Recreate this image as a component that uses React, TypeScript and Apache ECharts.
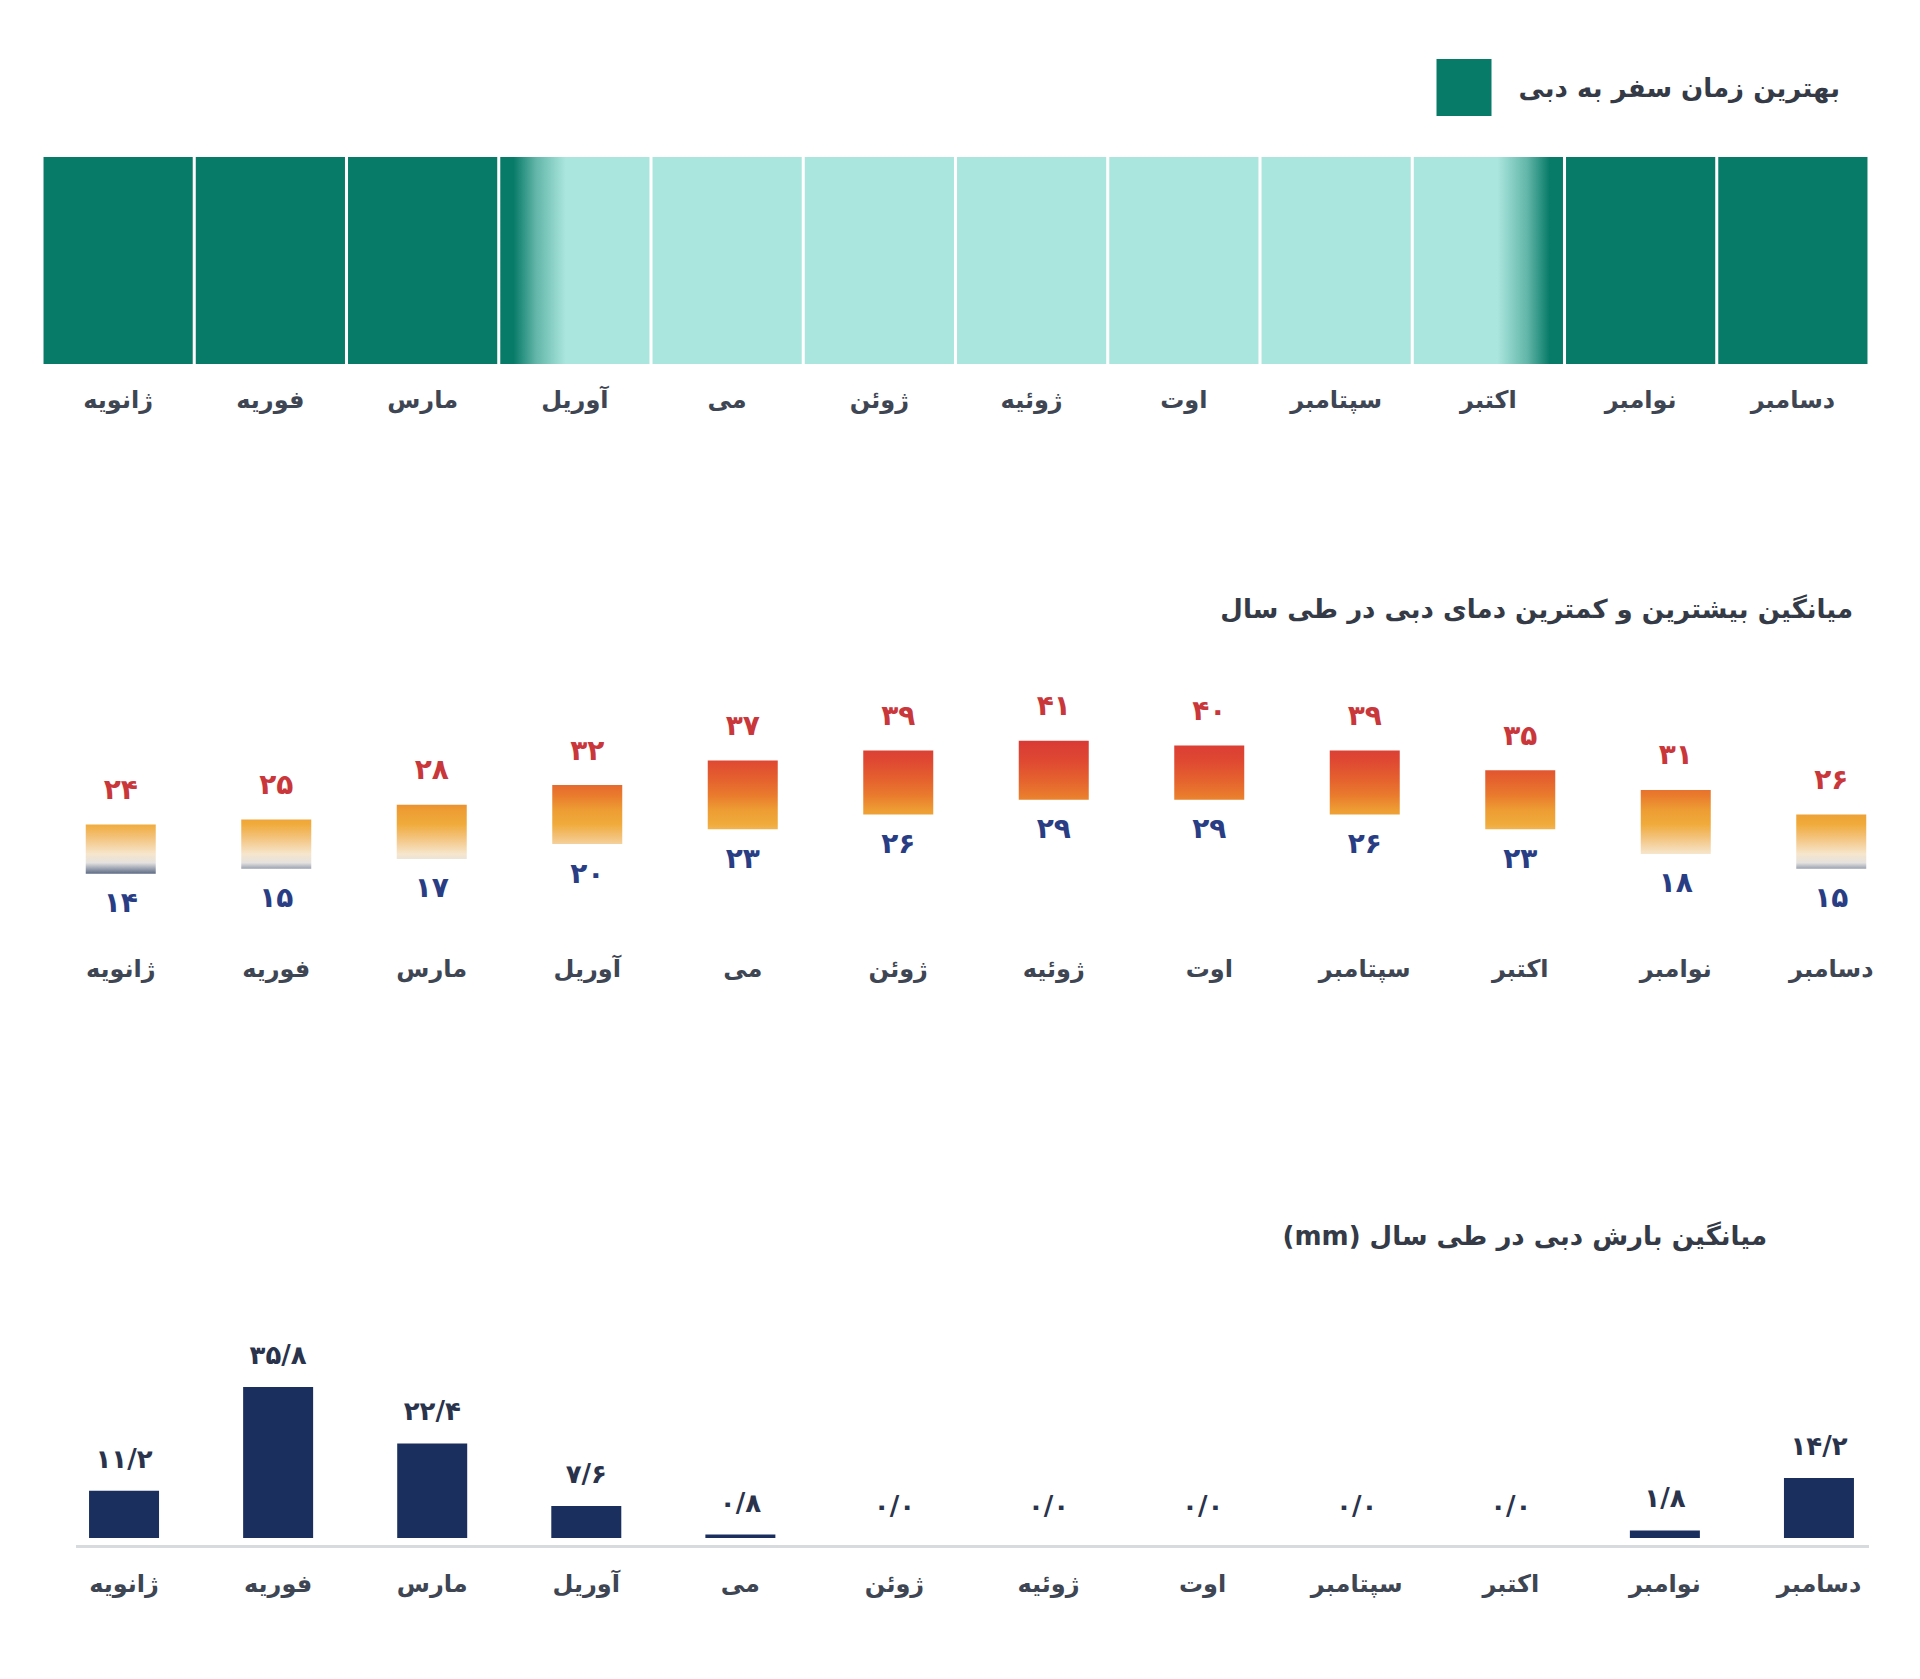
import React, { useEffect, useRef } from 'react';
import * as echarts from 'echarts';

// ---------- data ----------
const months = ['ژانویه', 'فوریه', 'مارس', 'آوریل', 'می', 'ژوئن', 'ژوئیه', 'اوت', 'سپتامبر', 'اکتبر', 'نوامبر', 'دسامبر'];
// best: best time, off: not recommended, toOff / toBest: transition months
const bestTimeStatus = ['best', 'best', 'best', 'toOff', 'off', 'off', 'off', 'off', 'off', 'toBest', 'best', 'best'];
const maxTemps = [24, 25, 28, 32, 37, 39, 41, 40, 39, 35, 31, 26];
const minTemps = [14, 15, 17, 20, 23, 26, 29, 29, 26, 23, 18, 15];
const precipitation = [11.2, 35.8, 22.4, 7.6, 0.8, 0.0, 0.0, 0.0, 0.0, 0.0, 1.8, 14.2];

const legendLabel = 'بهترین زمان سفر به دبی';
const tempTitle = 'میانگین بیشترین و کمترین دمای دبی در طی سال';
const precipTitle = '\u202Bمیانگین بارش دبی در طی سال (mm)\u202C';

// ---------- styles ----------
const FONT = '"DejaVu Sans", "Noto Sans", sans-serif';
const DARK = '#087b68';
const LIGHT = '#abe6de';
const LABEL_COLOR = '#3e4553';
const TITLE_COLOR = '#343a46';
const MAX_COLOR = '#c9373b';
const MIN_COLOR = '#283d84';
const BAR_NAVY = '#1b2f5e';
const PRECIP_LABEL = '#2a334c';

const tempScale: [number, string][] = [
  [14, '#5f6c85'],
  [15, '#9aa2b1'],
  [16.2, '#e4e2df'],
  [18, '#f6e6cc'],
  [21, '#f3c684'],
  [24, '#f0ab3c'],
  [27, '#ed9c33'],
  [30, '#e97a2d'],
  [33, '#e5622e'],
  [37, '#df4832'],
  [41, '#d93a35'],
];

const persian = (s: string) => s.replace(/[0-9]/g, (d) => '۰۱۲۳۴۵۶۷۸۹'[+d]);

function hexToRgb(h: string) {
  const n = parseInt(h.slice(1), 16);
  return [(n >> 16) & 255, (n >> 8) & 255, n & 255];
}
function mix(a: string, b: string, t: number) {
  const A = hexToRgb(a), B = hexToRgb(b);
  const c = A.map((v, i) => Math.round(v + (B[i] - v) * t));
  return `rgb(${c[0]},${c[1]},${c[2]})`;
}
function tempColor(t: number) {
  if (t <= tempScale[0][0]) return tempScale[0][1];
  for (let i = 1; i < tempScale.length; i++) {
    const [t1, c1] = tempScale[i];
    const [t0, c0] = tempScale[i - 1];
    if (t <= t1) return mix(c0, c1, (t - t0) / (t1 - t0));
  }
  return tempScale[tempScale.length - 1][1];
}
function tempGradient(max: number, min: number) {
  const stops: { offset: number; color: string }[] = [{ offset: 0, color: tempColor(max) }];
  tempScale.forEach(([t]) => {
    if (t < max && t > min) stops.push({ offset: (max - t) / (max - min), color: tempColor(t) });
  });
  stops.push({ offset: 1, color: tempColor(min) });
  stops.sort((a, b) => a.offset - b.offset);
  return new echarts.graphic.LinearGradient(0, 0, 0, 1, stops);
}
function stripColor(status: string) {
  if (status === 'best') return DARK;
  if (status === 'off') return LIGHT;
  const stops = [
    { offset: 0, color: DARK },
    { offset: 0.09, color: DARK },
    { offset: 0.24, color: mix(DARK, LIGHT, 0.55) },
    { offset: 0.44, color: LIGHT },
    { offset: 1, color: LIGHT },
  ];
  if (status === 'toOff') return new echarts.graphic.LinearGradient(0, 0, 1, 0, stops);
  return new echarts.graphic.LinearGradient(1, 0, 0, 0, stops);
}

const monthAxisLabel = (margin: number) => ({
  fontFamily: FONT,
  fontWeight: 'bold' as const,
  fontSize: 24,
  color: LABEL_COLOR,
  margin,
  interval: 0,
});

export default function App() {
  const ref = useRef<HTMLDivElement>(null);
  useEffect(() => {
    if (!ref.current) return;
    const chart = echarts.init(ref.current, undefined, { renderer: 'svg' });
    const option: any = {
      animation: false,
      backgroundColor: '#ffffff',
      textStyle: { fontFamily: FONT },
      title: [
        {
          text: tempTitle,
          right: 67,
          top: 596,
          padding: 0,
          textStyle: { fontFamily: FONT, fontWeight: 'bold', fontSize: 26, color: TITLE_COLOR },
        },
        {
          text: precipTitle,
          right: 153,
          top: 1223,
          padding: 0,
          textStyle: { fontFamily: FONT, fontWeight: 'bold', fontSize: 26, color: TITLE_COLOR },
        },
      ],
      legend: {
        right: 80,
        top: 59,
        padding: 0,
        selectedMode: false,
        itemWidth: 55,
        itemHeight: 57,
        data: [{ name: legendLabel, icon: 'rect', itemStyle: { color: DARK } }],
        textStyle: {
          fontFamily: FONT,
          fontWeight: 'bold',
          fontSize: 26,
          color: TITLE_COLOR,
          padding: [0, 0, 0, 22],
        },
      },
      grid: [
        { left: 42, right: 51, top: 157, height: 207 },
        { left: 43, right: 11, top: 721, height: 221.6 },
        { left: 47, right: 24, top: 1369.2, height: 168.8 },
      ],
      xAxis: [
        {
          gridIndex: 0, type: 'category', data: months,
          axisLine: { show: false }, axisTick: { show: false },
          axisLabel: monthAxisLabel(24),
        },
        {
          gridIndex: 1, type: 'category', data: months,
          axisLine: { show: false }, axisTick: { show: false },
          axisLabel: monthAxisLabel(14),
        },
        {
          gridIndex: 2, type: 'category', data: months,
          axisLine: { show: false }, axisTick: { show: false },
          axisLabel: monthAxisLabel(34),
        },
      ],
      yAxis: [
        { gridIndex: 0, type: 'value', min: 0, max: 1, show: false },
        { gridIndex: 1, type: 'value', min: 0, max: 45, show: false },
        { gridIndex: 2, type: 'value', min: 0, max: 40, show: false },
      ],
      graphic: [
        {
          type: 'line',
          shape: { x1: 76, y1: 1546.5, x2: 1869, y2: 1546.5 },
          style: { stroke: '#d8dbde', lineWidth: 3 },
          silent: true,
        },
      ],
      series: [
        {
          name: legendLabel,
          type: 'bar',
          xAxisIndex: 0,
          yAxisIndex: 0,
          barCategoryGap: '2%',
          itemStyle: { color: DARK },
          data: bestTimeStatus.map((s) => ({ value: 1, itemStyle: { color: stripColor(s) } })),
        },
        {
          name: 'min',
          type: 'bar',
          xAxisIndex: 1,
          yAxisIndex: 1,
          stack: 'temp',
          barWidth: 70,
          itemStyle: { color: 'rgba(0,0,0,0)' },
          label: {
            show: true,
            position: 'insideTop',
            distance: 15,
            fontFamily: FONT,
            fontWeight: 'bold',
            fontSize: 28,
            color: MIN_COLOR,
            formatter: (p: any) => persian(String(minTemps[p.dataIndex])),
          },
          data: minTemps,
        },
        {
          name: 'range',
          type: 'bar',
          xAxisIndex: 1,
          yAxisIndex: 1,
          stack: 'temp',
          barWidth: 70,
          label: {
            show: true,
            position: 'top',
            distance: 21,
            fontFamily: FONT,
            fontWeight: 'bold',
            fontSize: 28,
            color: MAX_COLOR,
            formatter: (p: any) => persian(String(maxTemps[p.dataIndex])),
          },
          data: maxTemps.map((mx, i) => ({
            value: mx - minTemps[i],
            itemStyle: { color: tempGradient(mx, minTemps[i]) },
          })),
        },
        {
          name: 'precip',
          type: 'bar',
          xAxisIndex: 2,
          yAxisIndex: 2,
          barWidth: 70,
          itemStyle: { color: BAR_NAVY },
          label: {
            show: true,
            position: 'top',
            distance: 19,
            fontFamily: FONT,
            fontWeight: 'bold',
            fontSize: 26,
            color: PRECIP_LABEL,
            formatter: (p: any) => persian(Number(p.value).toFixed(1).replace('.', '/')),
          },
          data: precipitation,
        },
      ],
    };
    chart.setOption(option);
    return () => chart.dispose();
  }, []);
  return (
    <div
      ref={ref}
      style={{ position: 'fixed', left: 0, top: 0, width: 1920, height: 1679, background: '#fff' }}
    />
  );
}
